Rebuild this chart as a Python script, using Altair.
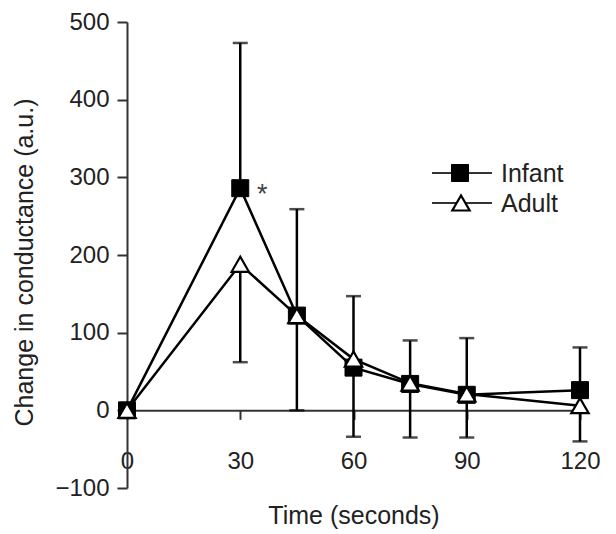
import altair as alt
import pandas as pd

# ---- data ----
time_s = [0, 30, 45, 60, 75, 90, 120]
infant = [0, 286, 122, 55, 34, 20, 26]
adult = [0, 188, 122, 66, 35, 21, 6]
infant_upper = [None, 473, 259, 147, 90, 93, 81]
adult_lower = [None, 62, 0, -34, -35, -35, -40]
groups = ["Infant", "Adult"]
x_ticks = [0, 30, 60, 90, 120]
y_ticks = [-100, 0, 100, 200, 300, 400, 500]

long = pd.DataFrame({
    "time": time_s * 2,
    "value": infant + adult,
    "cap": infant_upper + adult_lower,
    "group": [groups[0]] * len(time_s) + [groups[1]] * len(time_s),
})

FONT = "Liberation Sans"
TXT = "#222222"
AX = "#333333"

W, H = 453, 466
xs = alt.Scale(domain=[0, 120], nice=False, zero=False)
ys = alt.Scale(domain=[-100, 500], nice=False, zero=False)

x_axis = alt.Axis(
    values=x_ticks, orient="bottom", offset=-H / 6.0, grid=False,
    domainColor=AX, domainWidth=2, tickColor=AX, tickWidth=2, tickSize=9,
    labelFontSize=24, labelColor=TXT, labelPadding=30, labelAngle=0,
    labelFlush=False, labelOverlap=False, labelFont=FONT,
    title="Time (seconds)", titleFontSize=25, titleFontWeight="normal",
    titleColor=TXT, titleFont=FONT, titleX=W / 2, titleY=112.7,
    titleBaseline="alphabetic", titleAlign="center",
)
y_axis = alt.Axis(
    values=y_ticks, orient="left", grid=False,
    domainColor=AX, domainWidth=2, tickColor=AX, tickWidth=2, tickSize=10,
    labelFontSize=24, labelColor=TXT, labelPadding=8, labelFlush=False,
    labelOverlap=False, labelFont=FONT,
    title="Change in conductance (a.u.)", titleFontSize=25,
    titleFontWeight="normal", titleColor=TXT, titleFont=FONT,
    titleAngle=270, titleX=-95, titleY=240, titleAlign="center",
    titleBaseline="alphabetic",
)

X = alt.X("time:Q", scale=xs, axis=x_axis)
Yv = alt.Y("value:Q", scale=ys, axis=y_axis)
Yc = alt.Y("cap:Q", scale=ys, axis=y_axis)

base = alt.Chart(long)

lines = base.mark_line(color="black", strokeWidth=2.5).encode(
    x=X, y=Yv, detail="group:N",
)

valid = "isValid(datum.cap)"
rules = base.transform_filter(valid).mark_rule(color="black", strokeWidth=2.5).encode(
    x=X, y=Yv, y2="cap:Q",
)
caps = base.transform_filter(valid).mark_tick(
    color="black", orient="horizontal", size=15, thickness=2.5
).encode(x=X, y=Yc)

squares = base.transform_filter(alt.datum.group == groups[0]).mark_point(
    shape="square", filled=True, fill="black", stroke="black",
    strokeWidth=1, size=289, opacity=1
).encode(x=X, y=Yv)
triangles = base.transform_filter(alt.datum.group == groups[1]).mark_point(
    shape="triangle-up", filled=True, fill="white", stroke="black",
    strokeWidth=2.2, size=300, opacity=1
).encode(x=X, y=Yv)

star = base.transform_filter(
    (alt.datum.group == groups[0]) & (alt.datum.time == 30)
).mark_text(
    text="*", dx=22, dy=15, fontSize=27, font=FONT, color="#444444",
    align="center", baseline="alphabetic"
).encode(x=X, y=Yv)

# ---- legend (drawn by hand: line with symbol through it) ----
leg_df = pd.DataFrame({"group": groups})
leg_layers = []
for i, g in enumerate(groups):
    yy = 151 + 30 * i
    d = alt.Chart(leg_df).transform_filter(alt.datum.group == g)
    leg_layers.append(d.mark_rule(color="#333333", strokeWidth=2).encode(
        x=alt.value(305), x2=alt.value(365), y=alt.value(yy)))
    if i == 0:
        leg_layers.append(d.mark_point(
            shape="square", filled=True, fill="black", stroke="black",
            strokeWidth=1, size=289, opacity=1
        ).encode(x=alt.value(333), y=alt.value(yy)))
    else:
        leg_layers.append(d.mark_point(
            shape="triangle-up", filled=True, fill="white", stroke="black",
            strokeWidth=2.2, size=300, opacity=1
        ).encode(x=alt.value(334), y=alt.value(yy)))
    leg_layers.append(d.mark_text(
        fontSize=25, font=FONT, color=TXT, align="left", baseline="middle"
    ).encode(x=alt.value(374), y=alt.value(yy + 1), text="group:N"))

chart = alt.layer(lines, rules, caps, squares, triangles, star, *leg_layers).properties(
    width=W, height=H,
    background="white",
    autosize=alt.AutoSizeParams(type="none"),
    padding={"left": 127, "top": 22, "right": 616 - 127 - W, "bottom": 534 - 22 - H},
).configure_view(stroke=None)

chart.save("out.html", embed_options={"renderer": "svg", "actions": False})
